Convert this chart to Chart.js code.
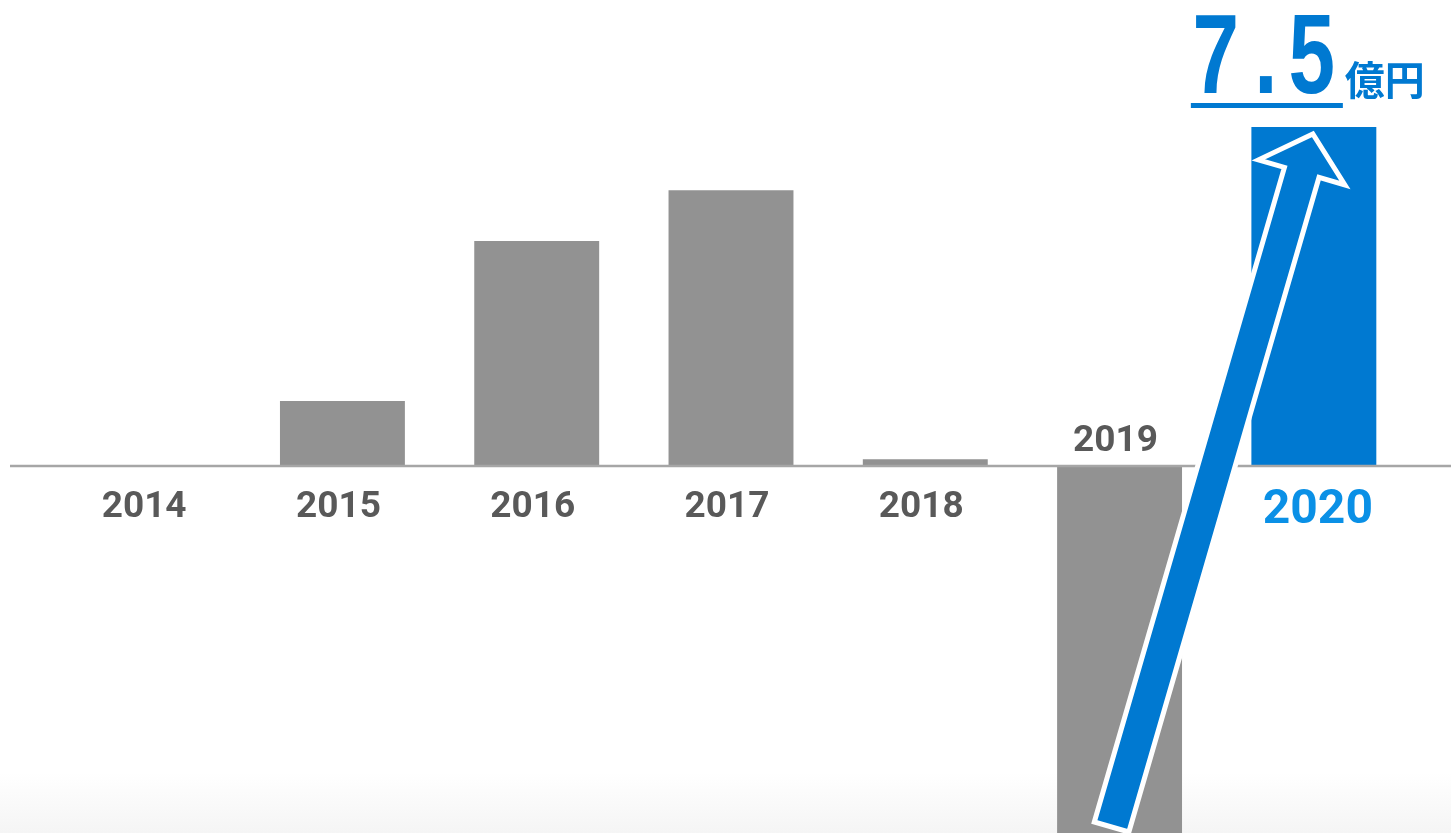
<!DOCTYPE html>
<html lang="ja">
<head>
<meta charset="utf-8">
<title>営業利益の推移</title>
<script src="https://cdn.jsdelivr.net/npm/chart.js@4.4.0/dist/chart.umd.min.js"></script>
<style>
  html, body { margin: 0; padding: 0; background: #ffffff; overflow: hidden; }
  canvas { display: block; }
</style>
</head>
<body>
<canvas id="profit" width="1451" height="833"></canvas>
<script>
// 年度と金額（億円）
const years = ['2014', '2015', '2016', '2017', '2018', '2019', '2020'];
const profit = [0, 1.44, 4.98, 6.1, 0.15, -8.4, 7.5];
const unit = '億円';

const GRAY = '#929292';
const BLUE = '#0079d1';
const LABEL_GRAY = '#595959';
const LABEL_BLUE = '#0a90e6';

// 背景下端のうっすらしたグラデーション
const backdrop = {
  id: 'backdrop',
  beforeDraw(chart) {
    const { ctx, width, height } = chart;
    const g = ctx.createLinearGradient(0, height - 60, 0, height);
    g.addColorStop(0, '#ffffff');
    g.addColorStop(1, '#f5f5f5');
    ctx.save();
    ctx.fillStyle = g;
    ctx.fillRect(0, height - 60, width, 60);
    ctx.restore();
  }
};

function drawArrow(ctx, tx, ty, hx, hy) {
  const dx = hx - tx, dy = hy - ty;
  const len = Math.hypot(dx, dy);
  const ux = dx / len, uy = dy / len;
  const nx = -uy, ny = ux;
  const w = 18, hw = 45, hl = 40;
  const bx = hx - ux * hl, by = hy - uy * hl;
  ctx.save();
  ctx.beginPath();
  ctx.moveTo(tx + nx * w, ty + ny * w);
  ctx.lineTo(bx + nx * w, by + ny * w);
  ctx.lineTo(bx + nx * hw, by + ny * hw);
  ctx.lineTo(hx, hy);
  ctx.lineTo(bx - nx * hw, by - ny * hw);
  ctx.lineTo(bx - nx * w, by - ny * w);
  ctx.lineTo(tx - nx * w, ty - ny * w);
  ctx.closePath();
  ctx.fillStyle = BLUE;
  ctx.fill();
  ctx.lineJoin = 'miter';
  ctx.lineWidth = 5;
  ctx.strokeStyle = '#ffffff';
  ctx.stroke();
  ctx.restore();
}

// 細身の大きな数字を一文字ずつ描く
function drawNarrowChar(ctx, ch, centerX, baseY, squeeze) {
  ctx.save();
  ctx.translate(centerX, baseY);
  ctx.scale(squeeze, 1);
  ctx.textAlign = 'center';
  ctx.fillText(ch, 0, 0);
  ctx.restore();
}

const overlay = {
  id: 'overlay',
  afterDatasetsDraw(chart) {
    const { ctx, scales: { x, y }, chartArea, width } = chart;
    const zeroY = y.getPixelForValue(0);

    // ゼロの基準線
    ctx.save();
    ctx.strokeStyle = '#a6a6a6';
    ctx.lineWidth = 2.5;
    ctx.beginPath();
    ctx.moveTo(10, zeroY);
    ctx.lineTo(width, zeroY);
    ctx.stroke();
    ctx.restore();

    // 2019年の底から2020年の頂点へ向かう矢印
    const last = years.length - 1;
    drawArrow(ctx,
      x.getPixelForValue(last - 1) - 8, chartArea.bottom - 6,
      x.getPixelForValue(last) - 1, y.getPixelForValue(profit[last]) + 7);

    // 年度ラベル（マイナスの年は線の上に）
    ctx.save();
    ctx.textAlign = 'center';
    ctx.textBaseline = 'middle';
    years.forEach((yr, i) => {
      const cx = x.getPixelForValue(i);
      if (i === last) {
        ctx.font = 'bold 48px Roboto, "Liberation Sans", sans-serif';
        ctx.fillStyle = LABEL_BLUE;
        ctx.fillText(yr, cx + 4, zeroY + 45);
      } else {
        ctx.font = 'bold 37px Roboto, "Liberation Sans", sans-serif';
        ctx.fillStyle = LABEL_GRAY;
        const ly = profit[i] < 0 ? zeroY - 24 : zeroY + 42;
        ctx.fillText(yr, cx - 4, ly);
      }
    });
    ctx.restore();

    // 最終年度の金額見出し
    const chars = profit[last].toFixed(1).split('');
    const cx = x.getPixelForValue(last);
    const offsets = [-98, -48, -2];
    ctx.save();
    ctx.fillStyle = BLUE;
    ctx.textBaseline = 'alphabetic';
    ctx.font = 'bold 113px "Liberation Sans", Arial, sans-serif';
    chars.forEach((ch, i) => drawNarrowChar(ctx, ch, cx + offsets[i], 93, 0.74));
    ctx.fillRect(cx - 123, 103, 152, 5);
    ctx.textAlign = 'left';
    ctx.font = 'bold 40px "Noto Sans CJK JP", sans-serif';
    ctx.fillText(unit, cx + 31, 95);
    ctx.restore();
  }
};

new Chart(document.getElementById('profit'), {
  type: 'bar',
  data: {
    labels: years,
    datasets: [{
      data: profit,
      backgroundColor: profit.map((v, i) => i === profit.length - 1 ? BLUE : GRAY),
      borderWidth: 0,
      categoryPercentage: 1,
      barPercentage: 0.643
    }]
  },
  options: {
    responsive: false,
    animation: false,
    layout: { padding: { left: 51, right: 40, top: 0, bottom: 0 } },
    plugins: { legend: { display: false }, tooltip: { enabled: false } },
    scales: {
      x: { display: false },
      y: { display: false, min: -8.12, max: 10.31 }
    }
  },
  plugins: [backdrop, overlay]
});
</script>
</body>
</html>
